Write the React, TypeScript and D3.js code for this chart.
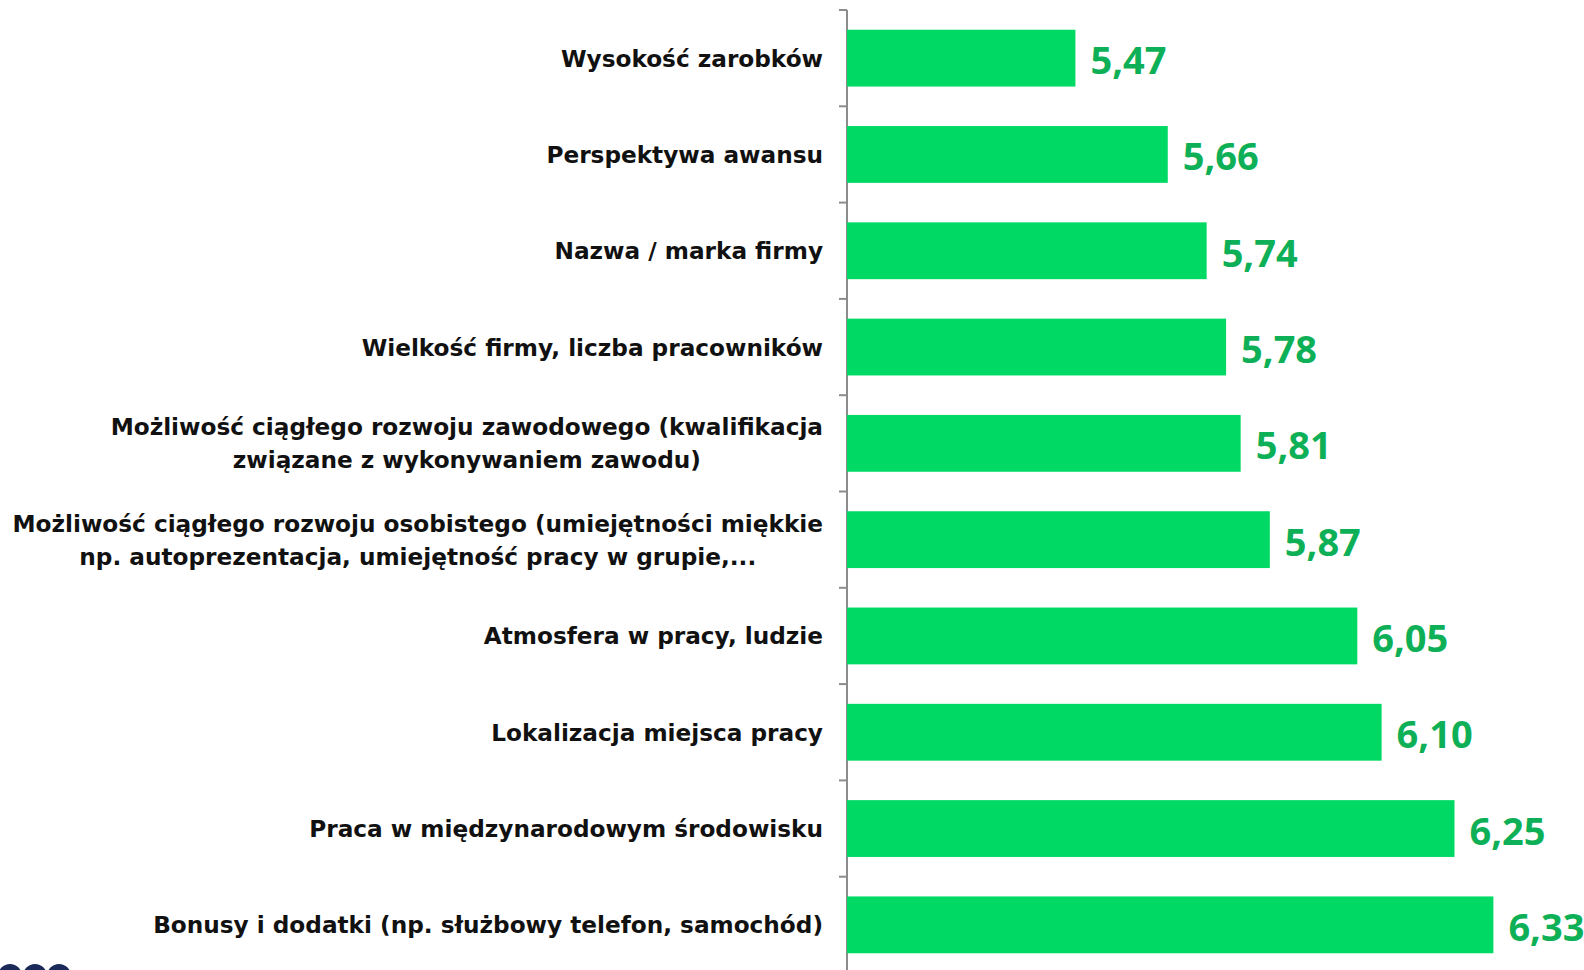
import React from "react";
import * as d3 from "d3";

const categories: string[][] = [
  ["Wysokość zarobków"],
  ["Perspektywa awansu"],
  ["Nazwa / marka firmy"],
  ["Wielkość firmy, liczba pracowników"],
  ["Możliwość ciągłego rozwoju zawodowego (kwalifikacja", "związane z wykonywaniem zawodu)"],
  ["Możliwość ciągłego rozwoju osobistego (umiejętności miękkie", "np. autoprezentacja, umiejętność pracy w grupie,..."],
  ["Atmosfera w pracy, ludzie"],
  ["Lokalizacja miejsca pracy"],
  ["Praca w międzynarodowym środowisku"],
  ["Bonusy i dodatki (np. służbowy telefon, samochód)"],
];
const values: number[] = [5.47, 5.66, 5.74, 5.78, 5.81, 5.87, 6.05, 6.1, 6.25, 6.33];
const xDomain: [number, number] = [5, 6.5];

const W = 1584;
const H = 970;
const axisX = 847;
const top = 10;
const step = 96.3;
const labelRight = 823;
const labelFont = "bold 23.2px 'DejaVu Sans'";

let ctx: CanvasRenderingContext2D | null = null;
function measure(s: string): number {
  if (!ctx) ctx = document.createElement("canvas").getContext("2d");
  if (!ctx) return s.length * 14;
  ctx.font = labelFont;
  return ctx.measureText(s).width;
}

export default function App() {
  const ids = categories.map((_, i) => String(i));
  const y = d3.scaleBand<string>().domain(ids).range([top, top + step * ids.length]).paddingInner(0.41).paddingOuter(0.205);
  const x = d3.scaleLinear().domain(xDomain).range([axisX, axisX + 1.5 * 486]);
  const fmt = (v: number) => d3.format(".2f")(v).replace(".", ",");
  const boundaries = d3.range(ids.length + 1).map((i) => top + step * i);
  return (
    <svg width={W} height={H} style={{ position: "absolute", left: 0, top: 0, background: "#fff" }}>
      <line x1={axisX} x2={axisX} y1={top} y2={H} stroke="#8c8c8c" strokeWidth={2} />
      {boundaries.map((b, i) => (
        <line key={i} x1={axisX - 8} x2={axisX} y1={b} y2={b} stroke="#8c8c8c" strokeWidth={2} />
      ))}
      {ids.map((id, i) => {
        const by = y(id)!;
        const bh = y.bandwidth();
        const cy = by + bh / 2;
        const lines = categories[i];
        const maxW = Math.max(...lines.map(measure));
        const cx = labelRight - maxW / 2;
        return (
          <g key={id}>
            <rect x={x(xDomain[0])} y={by} width={x(values[i]) - x(xDomain[0])} height={bh} fill="#00DA64" />
            <text
              x={x(values[i]) + 15}
              y={cy + 1}
              dominantBaseline="central"
              fontFamily="'Open Sans', sans-serif"
              fontWeight={700}
              fontSize={38}
              fill="#0DB056"
            >
              {fmt(values[i])}
            </text>
            {lines.map((l, j) => (
              <text
                key={j}
                x={cx}
                y={cy + (j - (lines.length - 1) / 2) * 33}
                dominantBaseline="central"
                textAnchor="middle"
                fontFamily="'DejaVu Sans', sans-serif"
                fontWeight={700}
                fontSize={23.2}
                fill="#111"
              >
                {l}
              </text>
            ))}
          </g>
        );
      })}
      {[10, 35, 59].map((c, i) => (
        <circle key={i} cx={c} cy={976} r={12} fill="#1c2a5a" />
      ))}
    </svg>
  );
}
